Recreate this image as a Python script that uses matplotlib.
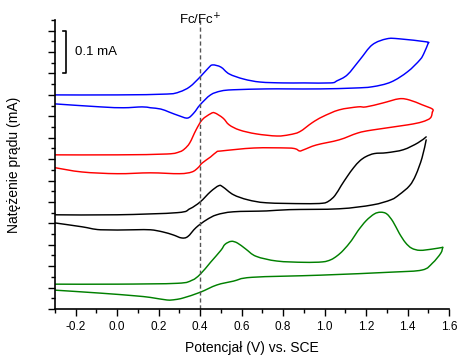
import matplotlib
matplotlib.use("Agg")
import matplotlib.pyplot as plt
import numpy as np
from matplotlib.path import Path
from matplotlib.patches import PathPatch
from matplotlib.ticker import MultipleLocator, NullFormatter

plt.rcParams['font.family'] = ['Liberation Sans', 'DejaVu Sans']

# potencjal (V vs. SCE) i prad (mA), galaz anodowa / katodowa
blue_fwd_E = [-0.30, 0.00, 0.24, 0.30, 0.35, 0.40, 0.44, 0.46, 0.50, 0.54, 0.61, 0.69,
              0.80, 0.90, 1.03, 1.06, 1.11, 1.17, 1.23, 1.30, 1.36, 1.49, 1.50]
blue_fwd_I = [0.000, 0.000, 0.002, 0.007, 0.019, 0.042, 0.063, 0.070, 0.065, 0.049, 0.037, 0.030,
              0.028, 0.028, 0.028, 0.033, 0.047, 0.082, 0.117, 0.131, 0.131, 0.124, 0.121]
blue_rev_E = [1.50, 1.48, 1.46, 1.40, 1.32, 1.23, 1.14, 0.98, 0.82, 0.72, 0.56, 0.50,
              0.45, 0.40, 0.37, 0.34, 0.30, 0.25, 0.21, 0.16, 0.12, 0.03, -0.08, -0.30]
blue_rev_I = [0.121, 0.098, 0.082, 0.054, 0.030, 0.019, 0.016, 0.014, 0.014, 0.014, 0.012, 0.009,
              0.000, -0.023, -0.042, -0.054, -0.049, -0.040, -0.033, -0.030, -0.028, -0.030, -0.028, -0.021]

red_fwd_E = [-0.30, 0.00, 0.24, 0.30, 0.325, 0.35, 0.38, 0.41, 0.45, 0.47, 0.51, 0.54, 0.59, 0.67,
             0.77, 0.83, 0.88, 0.94, 0.99, 1.07, 1.16, 1.20, 1.28, 1.36, 1.41, 1.47, 1.52, 1.52]
red_fwd_I = [0.000, 0.000, 0.002, 0.007, 0.014, 0.028, 0.058, 0.082, 0.096, 0.098, 0.086, 0.070, 0.058, 0.049,
             0.044, 0.047, 0.054, 0.075, 0.089, 0.105, 0.112, 0.112, 0.121, 0.131, 0.128, 0.117, 0.107, 0.100]
red_rev_E = [1.52, 1.51, 1.47, 1.40, 1.23, 1.16, 1.07, 0.96, 0.90, 0.88, 0.86, 0.82, 0.66,
             0.50, 0.48, 0.45, 0.41, 0.39, 0.36, 0.30, 0.16, 0.00, -0.17, -0.30]
red_rev_I = [0.100, 0.086, 0.077, 0.070, 0.058, 0.051, 0.035, 0.023, 0.012, 0.009, 0.014, 0.016, 0.016,
             0.009, 0.007, -0.005, -0.019, -0.030, -0.040, -0.044, -0.042, -0.044, -0.040, -0.030]

black_fwd_E = [-0.30, 0.00, 0.29, 0.35, 0.40, 0.45, 0.49, 0.51, 0.56, 0.63, 0.72, 0.90,
               0.99, 1.02, 1.05, 1.08, 1.11, 1.14, 1.17, 1.20, 1.24, 1.30, 1.38, 1.45, 1.49]
black_fwd_I = [0.000, 0.000, 0.005, 0.014, 0.030, 0.054, 0.068, 0.065, 0.047, 0.035, 0.028, 0.026,
               0.027, 0.032, 0.045, 0.068, 0.090, 0.110, 0.126, 0.136, 0.143, 0.145, 0.152, 0.168, 0.182]
black_rev_E = [1.49, 1.47, 1.44, 1.41, 1.36, 1.32, 1.23, 1.07, 0.83, 0.72, 0.56, 0.48,
               0.43, 0.38, 0.34, 0.31, 0.27, 0.22, 0.16, 0.08, -0.08, -0.17, -0.30]
black_rev_I = [0.175, 0.133, 0.093, 0.068, 0.047, 0.035, 0.023, 0.014, 0.012, 0.009, 0.007, 0.000,
               -0.012, -0.030, -0.051, -0.054, -0.047, -0.040, -0.035, -0.035, -0.035, -0.028, -0.019]

green_fwd_E = [-0.30, 0.00, 0.29, 0.36, 0.40, 0.45, 0.50, 0.52, 0.55, 0.58, 0.62, 0.67, 0.77, 0.90,
               0.99, 1.03, 1.06, 1.09, 1.13, 1.16, 1.20, 1.24, 1.27, 1.30, 1.33, 1.36, 1.39, 1.42,
               1.46, 1.52, 1.57]
green_fwd_I = [0.000, 0.000, 0.002, 0.009, 0.023, 0.051, 0.079, 0.093, 0.100, 0.096, 0.082, 0.065, 0.054, 0.051,
               0.052, 0.057, 0.066, 0.079, 0.102, 0.124, 0.148, 0.164, 0.168, 0.164, 0.146, 0.119, 0.097, 0.084,
               0.079, 0.082, 0.086]
green_rev_E = [1.57, 1.56, 1.52, 1.47, 1.32, 0.98, 0.65, 0.56, 0.48, 0.40, 0.32, 0.28, 0.24,
               0.16, 0.08, -0.08, -0.30]
green_rev_I = [0.086, 0.072, 0.049, 0.033, 0.028, 0.021, 0.016, 0.007, -0.002, -0.019, -0.032, -0.036, -0.037,
               -0.031, -0.027, -0.021, -0.014]

# przesuniecie krzywych w pionie (mA)
offsets = {'blue': 0.500, 'red': 0.360, 'black': 0.220, 'green': 0.058}
colors = {'blue': '#0000ff', 'red': '#ff0000', 'black': '#000000', 'green': '#008000'}

branches = {
    'blue': [(blue_fwd_E, blue_fwd_I), (blue_rev_E, blue_rev_I)],
    'red': [(red_fwd_E, red_fwd_I), (red_rev_E, red_rev_I)],
    'black': [(black_fwd_E, black_fwd_I), (black_rev_E, black_rev_I)],
    'green': [(green_fwd_E, green_fwd_I), (green_rev_E, green_rev_I)],
}


def gladka_sciezka(x, y):
    # krzywa Beziera przez odczytane punkty (Catmull-Rom)
    p = np.column_stack([x, y])
    verts = [p[0]]
    codes = [Path.MOVETO]
    n = len(p)
    for i in range(n - 1):
        p0 = p[i - 1] if i > 0 else p[i]
        p1, p2 = p[i], p[i + 1]
        p3 = p[i + 2] if i + 2 < n else p[i + 1]
        verts += [p1 + (p2 - p0) / 6.0, p2 - (p3 - p1) / 6.0, p2]
        codes += [Path.CURVE4] * 3
    return Path(verts, codes)


fig = plt.figure(figsize=(4.59, 3.58), dpi=100)
ax = fig.add_axes([0.1198, 0.1369, 0.8584, 0.8073])

for name, parts in branches.items():
    for E, I in parts:
        yy = [i + offsets[name] for i in I]
        ax.add_patch(PathPatch(gladka_sciezka(E, yy), fill=False, edgecolor=colors[name],
                               lw=1.05, joinstyle='round', capstyle='round'))

ax.axvline(0.4, color='#555555', lw=1.0, ls=(0, (3, 2)))
ax.text(0.4, 0.675, 'Fc/Fc$^{+}$', ha='center', va='center', fontsize=9.5,
        clip_on=False)

# skala 0.1 mA
ax.plot([-0.262, -0.247, -0.247, -0.262], [0.65, 0.65, 0.55, 0.55], color='black', lw=1.2)
ax.text(-0.205, 0.60, '0.1 mA', ha='left', va='center', fontsize=9.5)

ax.set_xlim(-0.3, 1.6)
ax.set_ylim(0, 0.675)
ax.xaxis.set_major_locator(MultipleLocator(0.2))
ax.xaxis.set_minor_locator(MultipleLocator(0.1))
ax.yaxis.set_major_locator(MultipleLocator(0.05))
ax.yaxis.set_minor_locator(MultipleLocator(0.025))
ax.yaxis.set_major_formatter(NullFormatter())
ax.set_xticklabels([f'{v:.1f}' for v in ax.get_xticks()])
ax.tick_params(which='major', direction='out', length=5, width=1.0, labelsize=8.5)
ax.tick_params(which='minor', direction='out', length=3, width=1.0)

for s in ['top', 'right']:
    ax.spines[s].set_visible(False)
for s in ['left', 'bottom']:
    ax.spines[s].set_linewidth(1.2)

ax.set_xlabel('Potencjał (V) vs. SCE', fontsize=10, labelpad=6)
ax.set_ylabel('Natężenie prądu (mA)', fontsize=10, labelpad=16)

fig.savefig('out.png', dpi=100)
